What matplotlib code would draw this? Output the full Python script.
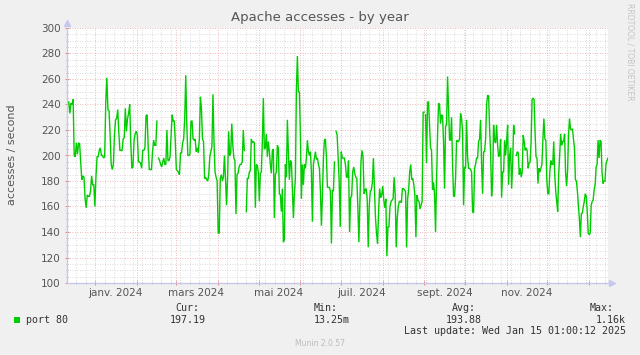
import numpy as np
import pandas as pd
import matplotlib
matplotlib.use("Agg")
import matplotlib.pyplot as plt
import matplotlib.dates as mdates
from matplotlib.ticker import MultipleLocator
from matplotlib.transforms import blended_transform_factory

# ---------------- data ----------------
title = "Apache accesses - by year"
ylabel = "accesses / second"
series_name = "port 80"
stat_labels = ["Cur:", "Min:", "Avg:", "Max:"]
stat_values = ["197.19", "13.25m", "193.88", "1.16k"]
last_update = "Last update: Wed Jan 15 01:00:12 2025"
footer = "Munin 2.0.57"
watermark = "RRDTOOL / TOBI OETIKER"

month_labels = ["janv. 2024", "mars 2024", "mai 2024", "juil. 2024", "sept. 2024", "nov. 2024"]
month_label_dates = ["2024-01-16", "2024-03-16", "2024-05-16", "2024-07-16", "2024-09-16", "2024-11-16"]
range_start = "2023-12-11 01:00:12"
range_end = "2025-01-15 01:00:12"
base_date = "2024-01-01"

y_min, y_max = 100, 300

# segments of the series: start / end day (days since 2024-01-01) and values
seg_start_days = [-19.64, 46.90, 111.96, 178.50, 244.79, 312.07]
seg_end_days = [45.67, 110.48, 177.27, 243.80, 310.83, 380.0]

seg_a = [242, 233, 241, 240, 244, 200, 199, 210, 201, 210, 209, 194, 181, 184, 183, 166, 159, 169, 168, 168,
         172, 184, 177, 177, 160, 184, 199, 199, 204, 206, 200, 200, 198, 199, 242, 261, 236, 235, 216, 193,
         189, 193, 216, 228, 229, 236, 218, 204, 204, 204, 213, 214, 237, 219, 229, 233, 240, 210, 190, 191,
         212, 217, 219, 216, 195, 195, 194, 190, 204, 204, 206, 231, 232, 207, 189, 189, 189, 203, 212, 208,
         208, 227]
seg_b = [198, 196, 193, 191, 195, 198, 193, 193, 220, 196, 196, 199, 216, 232, 227, 227, 211, 189, 188, 187,
         185, 202, 202, 210, 213, 229, 263, 224, 200, 200, 201, 227, 227, 213, 212, 213, 203, 206, 202, 213,
         246, 237, 213, 211, 182, 183, 181, 180, 185, 199, 203, 207, 248, 211, 187, 183, 180, 139, 139, 182,
         185, 180, 183, 200, 182, 161, 182, 219, 200, 202, 225, 208, 198, 196, 154, 185, 186, 191, 193, 193,
         195, 220, 204]
seg_c = [156, 182, 182, 187, 188, 213, 210, 211, 210, 159, 193, 192, 187, 164, 186, 187, 211, 245, 205, 206,
         217, 199, 211, 203, 193, 186, 204, 205, 151, 185, 187, 208, 206, 170, 169, 156, 174, 132, 134, 193,
         183, 228, 203, 181, 196, 195, 174, 151, 170, 182, 251, 278, 250, 250, 216, 166, 193, 177, 193, 190,
         198, 212, 203, 200, 203, 187, 148, 193, 198, 203, 197, 198, 193, 190, 172, 145, 169, 198, 212, 213,
         199, 175, 175, 175, 172, 131, 173, 172, 195]
seg_d = [219, 216, 198, 179, 144, 203, 198, 198, 198, 193, 183, 183, 196, 140, 167, 168, 187, 191, 186, 183,
         182, 159, 132, 164, 195, 204, 199, 170, 173, 174, 166, 128, 161, 172, 173, 179, 198, 174, 151, 139,
         131, 156, 174, 167, 169, 176, 165, 159, 166, 121, 144, 144, 160, 164, 165, 166, 183, 170, 128, 151,
         160, 164, 164, 163, 174, 174, 173, 172, 128, 166, 173, 187, 193, 181, 182, 177, 169, 136, 169, 165,
         164, 158, 161, 164, 234, 234]
seg_e = [232, 194, 242, 242, 224, 206, 204, 173, 179, 170, 140, 179, 216, 241, 240, 225, 232, 231, 211, 174,
         223, 224, 262, 237, 212, 212, 230, 193, 168, 168, 182, 212, 211, 211, 213, 233, 229, 219, 161, 191,
         190, 228, 199, 190, 190, 189, 187, 156, 155, 190, 193, 198, 198, 211, 213, 228, 193, 170, 203, 203,
         213, 240, 247, 247, 221, 203, 168, 179, 224, 211, 210, 224, 208, 199, 201, 213, 167, 187, 187, 212,
         200, 211, 224, 177, 200, 206, 174, 193, 224, 217]
seg_f = [200, 203, 202, 185, 190, 183, 187, 216, 211, 204, 206, 204, 190, 194, 195, 210, 244, 245, 244, 219,
         199, 198, 178, 190, 187, 190, 193, 213, 229, 213, 212, 180, 170, 170, 187, 196, 193, 193, 211, 185,
         172, 164, 156, 185, 200, 217, 208, 211, 211, 217, 187, 176, 187, 216, 229, 221, 220, 221, 213, 206,
         181, 180, 172, 161, 151, 136, 154, 155, 160, 164, 170, 168, 156, 139, 138, 139, 161, 164, 165, 173,
         177, 191, 193, 212, 198, 212, 211, 187, 178, 180, 180, 193, 196, 198]
segments = [seg_a, seg_b, seg_c, seg_d, seg_e, seg_f]

# ---------------- style ----------------
line_color = "#00CC00"
text_color = "#555555"
bg_color = "#F0F0F0"

plt.rcParams["font.family"] = ["DejaVu Sans"]

fig = plt.figure(figsize=(6.4, 3.55), dpi=100, facecolor=bg_color)
W, H = 640.0, 355.0
ax = fig.add_axes([67 / W, 1 - 283 / H, (608 - 67) / W, (283 - 28) / H])
ax.set_facecolor("white")

base = pd.Timestamp(base_date)
for vals, d0, d1 in zip(segments, seg_start_days, seg_end_days):
    days = np.linspace(d0, d1, len(vals))
    times = base + pd.to_timedelta(days, unit="D")
    ax.plot(times, vals, color=line_color, lw=1.0, solid_joinstyle="miter", zorder=5)

ax.set_xlim(pd.Timestamp(range_start), pd.Timestamp(range_end))
ax.set_ylim(y_min, y_max)

# grid
ax.xaxis.set_major_locator(mdates.MonthLocator())
ax.xaxis.set_minor_locator(mdates.WeekdayLocator(byweekday=mdates.MO))
ax.yaxis.set_major_locator(MultipleLocator(20))
ax.yaxis.set_minor_locator(MultipleLocator(5))
ax.grid(which="minor", color="#cfcfcf", ls=(0, (1, 2)), lw=0.6, zorder=1)
ax.grid(which="major", color="#eaa0a0", ls=(0, (1, 2)), lw=0.6, zorder=2)
ax.set_axisbelow(True)

ax.xaxis.set_major_formatter(plt.NullFormatter())
ax.tick_params(axis="x", which="major", length=3, direction="inout", color="#e08080", width=0.7)
ax.tick_params(axis="x", which="minor", length=2, direction="inout", color="#b0b0b0", width=0.6)
ax.tick_params(axis="y", which="major", length=3, direction="inout", color="#e08080", width=0.7,
               labelsize=7.5, labelcolor=text_color, pad=3)
ax.tick_params(axis="y", which="minor", length=2, direction="inout", color="#b0b0b0", width=0.6)

for s in ["top", "right"]:
    ax.spines[s].set_visible(False)
for s in ["left", "bottom"]:
    ax.spines[s].set_color("#c8c8ee")
    ax.spines[s].set_linewidth(1.0)

# axis arrows
ax.plot([0], [1.02], marker="^", ms=5, color="#c8c8ee", transform=ax.transAxes, clip_on=False)
ax.plot([1.008], [0], marker=">", ms=5, color="#c8c8ee", transform=ax.transAxes, clip_on=False)

# month labels
trans = blended_transform_factory(ax.transData, ax.transAxes)
for lab, d in zip(month_labels, month_label_dates):
    ax.text(pd.Timestamp(d), -0.04, lab, transform=trans, ha="center", va="center",
            fontsize=7.5, color=text_color)

# titles
fig.text(0.5, 1 - 18 / H, title, ha="center", va="center", fontsize=9.5, color=text_color)
fig.text(12 / W, 1 - 155 / H, ylabel, rotation=90, ha="center", va="center", fontsize=8, color=text_color)
fig.text(630 / W, 1 - 52 / H, watermark, rotation=270, ha="center", va="center", fontsize=5.5, color="#c4c4c4")

# legend
mono = "DejaVu Sans Mono"
fig.patches.append(plt.Rectangle((14 / W, 1 - 323 / H), 6 / W, 6 / H, transform=fig.transFigure,
                                 facecolor=line_color, edgecolor="none"))
fig.text(26 / W, 1 - 320 / H, series_name, ha="left", va="center", fontsize=7.2, family=mono, color="#333333")
label_right = [199, 338, 476, 614]
value_right = [206, 350, 482, 626]
for lab, val, lr, vr in zip(stat_labels, stat_values, label_right, value_right):
    fig.text(lr / W, 1 - 308 / H, lab, ha="right", va="center", fontsize=7.2, family=mono, color="#333333")
    fig.text(vr / W, 1 - 320 / H, val, ha="right", va="center", fontsize=7.2, family=mono, color="#333333")
fig.text(626 / W, 1 - 331 / H, last_update, ha="right", va="center", fontsize=7.2, family=mono, color="#333333")
fig.text(0.5, 1 - 344 / H, footer, ha="center", va="center", fontsize=5.5, color="#bbbbbb")

fig.savefig("out.png", dpi=100, facecolor=bg_color)
